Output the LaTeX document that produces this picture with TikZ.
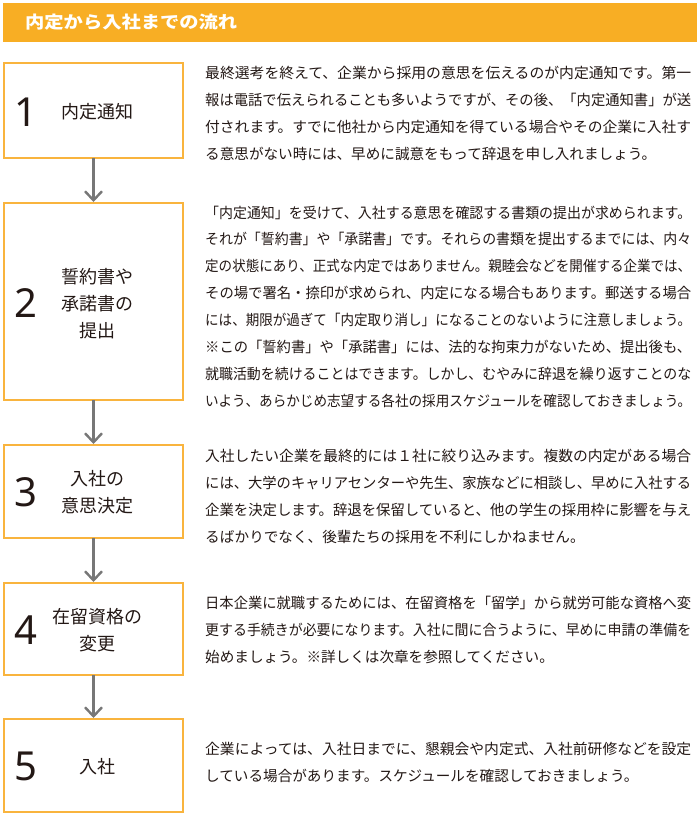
\documentclass[tikz,border=0pt]{standalone}
\usepackage{fontspec}
\usepackage{graphicx}
\usetikzlibrary{arrows.meta}
\newfontfamily\jpfont{Noto Sans CJK JP}
\newfontfamily\numfont{Noto Sans}
\definecolor{hdr}{HTML}{F8AE24}
\definecolor{bdr}{HTML}{F9B43E}
\definecolor{arr}{HTML}{777777}
\definecolor{ink}{HTML}{231815}
\newsavebox\jlinebox
\newcommand\jfull[1]{\resizebox{486pt}{\height}{#1}}
\newcommand\jfit[1]{\sbox\jlinebox{#1}\ifdim\wd\jlinebox>486pt\resizebox{486pt}{\height}{\usebox\jlinebox}\else\usebox\jlinebox\fi}
\tikzset{
  stepbox/.style={draw=bdr, line width=1.5pt, minimum width=179pt, anchor=north west, inner sep=0pt, outer sep=0pt},
  stepnum/.style={font=\numfont\fontsize{40}{40}\selectfont, text=ink, inner sep=0pt},
  steplbl/.style={font=\jpfont\fontsize{18}{27}\selectfont, text=ink, align=center, inner sep=0pt},
  jline/.style={anchor=base west, inner sep=0pt, font=\jpfont\fontsize{14.6}{18}\selectfont, text=ink},
  flowarrow/.style={draw=arr, line width=2.4pt, -{Straight Barb[length=9pt,width=17pt]}, shorten >=1pt}
}
\begin{document}
\begin{tikzpicture}[x=1pt,y=-1pt]
\useasboundingbox (0,0) rectangle (700,816);
\fill[white] (0,0) rectangle (700,816);
% header
\fill[hdr] (3,3) rectangle (697,42);
\node[anchor=west, inner sep=0pt, text=white, font=\jpfont\bfseries\fontsize{17}{20}\selectfont] (title) at (25,22.5) {\resizebox{212pt}{\height}{内定から入社までの流れ}};
% boxes
\node[stepbox, minimum height=95pt] (b1) at (4,63) {};
\node[stepbox, minimum height=197pt] (b2) at (4,203) {};
\node[stepbox, minimum height=93pt] (b3) at (4,445) {};
\node[stepbox, minimum height=92pt] (b4) at (4,583) {};
\node[stepbox, minimum height=93pt] (b5) at (4,719) {};
% numbers
\node[stepnum] (n1) at (26,112) {1};
\node[stepnum] (n2) at (26,303) {2};
\node[stepnum] (n3) at (26,492) {3};
\node[stepnum] (n4) at (26,630) {4};
\node[stepnum] (n5) at (26,766) {5};
% labels
\node[steplbl] (l1) at (97,112) {内定通知};
\node[steplbl] (l2) at (97,304) {誓約書や\\承諾書の\\提出};
\node[steplbl] (l3) at (97,492) {入社の\\意思決定};
\node[steplbl] (l4) at (97,630) {在留資格の\\変更};
\node[steplbl] (l5) at (97,767) {入社};
% arrows
\draw[flowarrow] (b1.south) -- (b2.north);
\draw[flowarrow] (b2.south) -- (b3.north);
\draw[flowarrow] (b3.south) -- (b4.north);
\draw[flowarrow] (b4.south) -- (b5.north);
% block 1
\node[jline] (t11) at (205,78.5) {\jfull{最終選考を終えて、企業から採用の意思を伝えるのが内定通知です。第一}};
\node[jline] (t12) at (205,105.5) {\jfull{報は電話で伝えられることも多いようですが、その後、「内定通知書」が送}};
\node[jline] (t13) at (205,132.5) {\jfull{付されます。すでに他社から内定通知を得ている場合やその企業に入社す}};
\node[jline] (t14) at (205,159.5) {\jfit{る意思がない時には、早めに誠意をもって辞退を申し入れましょう。}};
% block 2
\node[jline] (t21) at (205,218) {\jfull{「内定通知」を受けて、入社する意思を確認する書類の提出が求められます。}};
\node[jline] (t22) at (205,244.9) {\jfull{それが「誓約書」や「承諾書」です。それらの書類を提出するまでには、内々}};
\node[jline] (t23) at (205,271.8) {\jfull{定の状態にあり、正式な内定ではありません。親睦会などを開催する企業では、}};
\node[jline] (t24) at (205,298.7) {\jfull{その場で署名・捺印が求められ、内定になる場合もあります。郵送する場合}};
\node[jline] (t25) at (205,325.6) {\jfull{には、期限が過ぎて「内定取り消し」になることのないように注意しましょう。}};
\node[jline] (t26) at (205,352.5) {\jfull{※この「誓約書」や「承諾書」には、法的な拘束力がないため、提出後も、}};
\node[jline] (t27) at (205,379.4) {\jfull{就職活動を続けることはできます。しかし、むやみに辞退を繰り返すことのな}};
\node[jline] (t28) at (205,406.3) {\jfit{いよう、あらかじめ志望する各社の採用スケジュールを確認しておきましょう。}};
% block 3
\node[jline] (t31) at (205,461.5) {\jfull{入社したい企業を最終的には１社に絞り込みます。複数の内定がある場合}};
\node[jline] (t32) at (205,488.4) {\jfull{には、大学のキャリアセンターや先生、家族などに相談し、早めに入社する}};
\node[jline] (t33) at (205,515.3) {\jfull{企業を決定します。辞退を保留していると、他の学生の採用枠に影響を与え}};
\node[jline] (t34) at (205,542.2) {\jfit{るばかりでなく、後輩たちの採用を不利にしかねません。}};
% block 4
\node[jline] (t41) at (205,608.5) {\jfull{日本企業に就職するためには、在留資格を「留学」から就労可能な資格へ変}};
\node[jline] (t42) at (205,635.4) {\jfull{更する手続きが必要になります。入社に間に合うように、早めに申請の準備を}};
\node[jline] (t43) at (205,662.3) {\jfit{始めましょう。※詳しくは次章を参照してください。}};
% block 5
\node[jline] (t51) at (205,754.5) {\jfull{企業によっては、入社日までに、懇親会や内定式、入社前研修などを設定}};
\node[jline] (t52) at (205,781.4) {\jfit{している場合があります。スケジュールを確認しておきましょう。}};
\end{tikzpicture}
\end{document}
